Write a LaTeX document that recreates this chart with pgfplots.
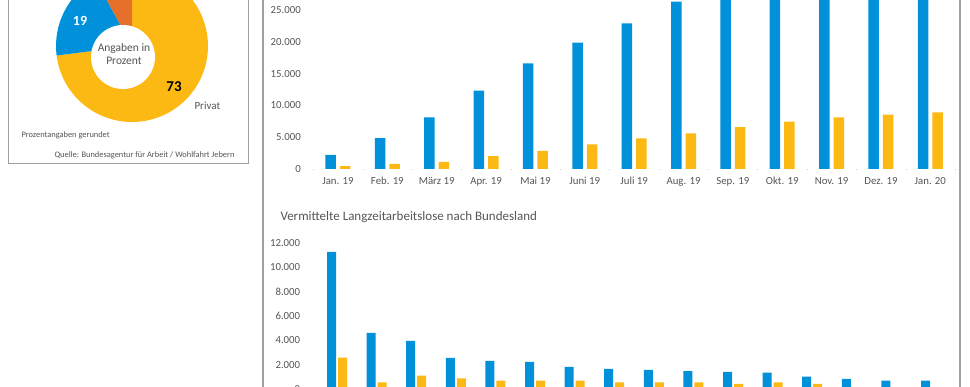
\documentclass[border=0pt]{standalone}
\usepackage{fontspec}
\setmainfont{Carlito}
\usepackage{pgfplots}
\usepackage{pgfplotstable}
\pgfplotsset{compat=1.18}
\definecolor{cblue}{HTML}{0091DA}
\definecolor{cyel}{HTML}{FDB913}
\definecolor{corange}{HTML}{E5702A}
\definecolor{ctext}{HTML}{555555}
\definecolor{cframe}{HTML}{A0A0A0}

\pgfplotstableread{
x blue yellow
0 2200 450
1 4870 790
2 8130 1100
3 12310 2040
4 16620 2830
5 19860 3880
6 22900 4830
7 26300 5610
8 29500 6600
9 32000 7440
10 34000 8130
11 35500 8540
12 36500 8910
}\monthly

\pgfplotstableread{
x blue yellow
0 11280 2600
1 4630 575
2 3970 1120
3 2570 900
4 2330 710
5 2240 710
6 1830 710
7 1670 575
8 1590 575
9 1500 575
10 1420 435
11 1360 575
12 1040 435
13 850 150
14 710 120
15 710 120
}\laender

\begin{document}
\begin{tikzpicture}[x=1pt,y=1pt]
\useasboundingbox (0,0) rectangle (970,387);
\clip (0,0) rectangle (970,387);

% frames
\draw[cframe, line width=1.2pt] (263,-10) -- (263,400);
\draw[cframe, line width=1.2pt] (960,-10) -- (960,400);
\draw[cframe, line width=1pt] (8,400) -- (8,223) -- (248,223) -- (248,400);

% donut (percent values 73, 19, 8)
\def\cx{132}\def\cy{341}\def\R{76}
\def\startang{90}
\foreach \val/\col in {73/cyel,19/cblue,8/corange}{
  \pgfmathsetmacro{\endang}{\startang-3.6*\val}
  \fill[\col] (\cx,\cy) -- ++(\startang:\R) arc[start angle=\startang, end angle=\endang, radius=\R] -- cycle;
  \global\let\startang\endang
}
\fill[white] (123,330) circle[radius=32];

\node[white, font=\fontsize{14}{14}\selectfont\bfseries] at (80,366) {19};
\node[black, font=\fontsize{15}{15}\selectfont\bfseries] at (174,300) {73};
\node[ctext, anchor=west, font=\fontsize{11}{11}\selectfont] at (191,281) {Privat};
\node[ctext, align=center, font=\fontsize{11.5}{13.5}\selectfont] at (124,333) {Angaben in\\Prozent};
\node[ctext, anchor=west, font=\fontsize{8.4}{9}\selectfont] at (18,252) {Prozentangaben gerundet};
\node[ctext, anchor=east, font=\fontsize{8.4}{9}\selectfont] at (238,232) {Quelle: Bundesagentur für Arbeit / Wohlfahrt Jebern};

% top chart
\begin{axis}[
  at={(313.3pt,218pt)}, anchor=south west, scale only axis,
  width=641.7pt, height=169pt,
  xmin=-0.5, xmax=12.5, ymin=0, ymax=26570,
  ybar=4pt, bar width=10.5pt,
  axis line style={draw=none},
  xtick=data,
  xticklabels={Jan. 19,Feb. 19,März 19,Apr. 19,Mai 19,Juni 19,Juli 19,Aug. 19,Sep. 19,Okt. 19,Nov. 19,Dez. 19,Jan. 20},
  minor xtick={-0.5,0.5,...,12.5},
  minor tick length=1.5pt,
  minor tick style={gray!40},
  major tick length=0pt,
  ytick={0,5000,...,25000},
  scaled y ticks=false,
  /pgf/number format/.cd, 1000 sep={.}, assume math mode=true,
  /pgfplots/.cd,
  ticklabel style={text=ctext, font=\fontsize{10.8}{11}\selectfont},
  xticklabel style={yshift=-4.5pt},
  yticklabel style={xshift=-9pt},
]
\addplot[fill=cblue, draw=none] table[x=x,y=blue]{\monthly};
\addplot[fill=cyel, draw=none] table[x=x,y=yellow]{\monthly};
\end{axis}

% bottom chart
\node[ctext, anchor=west, font=\fontsize{13}{13}\selectfont] at (277,170) {Vermittelte Langzeitarbeitslose nach Bundesland};
\begin{axis}[
  at={(317.2pt,-2.3pt)}, anchor=south west, scale only axis,
  width=633.6pt, height=146.3pt,
  xmin=-0.5, xmax=15.5, ymin=0, ymax=12000,
  ybar=2pt, bar width=9pt,
  axis line style={draw=none},
  xtick=data, xticklabels={},
  major tick length=0pt,
  ytick={0,2000,...,12000},
  scaled y ticks=false,
  /pgf/number format/.cd, 1000 sep={.}, assume math mode=true,
  /pgfplots/.cd,
  ticklabel style={text=ctext, font=\fontsize{10.8}{11}\selectfont},
  yticklabel style={xshift=-13.5pt},
]
\addplot[fill=cblue, draw=none] table[x=x,y=blue]{\laender};
\addplot[fill=cyel, draw=none] table[x=x,y=yellow]{\laender};
\end{axis}
\end{tikzpicture}
\end{document}
